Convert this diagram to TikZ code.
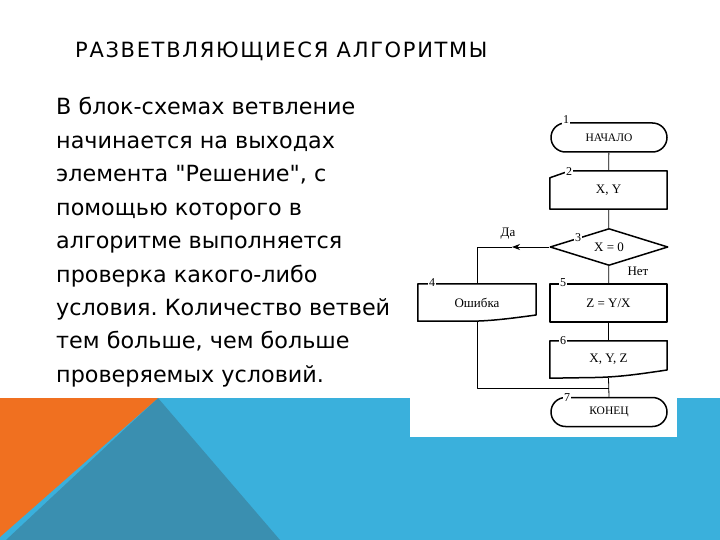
\documentclass[tikz,border=0pt]{standalone}
\usepackage{fontspec}
\setmainfont{DejaVu Sans}
\newfontfamily\schemefont{Liberation Serif}
\usetikzlibrary{shapes.geometric,shapes.misc,arrows.meta,positioning}
\definecolor{slideblue}{HTML}{3AB0DC}
\definecolor{slideteal}{HTML}{3A8FB0}
\definecolor{slideorange}{HTML}{F07020}
\frenchspacing

\begin{document}
\begin{tikzpicture}[x=1pt,y=-1pt,>={Stealth[length=8pt,width=6pt]},line join=round,
  body/.style={font=\fontsize{22.3}{26}\selectfont,inner sep=0pt,anchor=base west},
  blk/.style={font=\schemefont\fontsize{13}{15}\selectfont,inner sep=0pt},
  term/.style={blk,rounded rectangle,draw,line width=1.5pt,minimum width=116pt,minimum height=29pt,
    font=\schemefont\fontsize{11.5}{13}\selectfont},
  cond/.style={blk,diamond,aspect=3,draw,line width=1.5pt,minimum width=118pt,minimum height=37pt},
  outl/.style={line width=1.5pt},
  num/.style={font=\schemefont\fontsize{12}{13}\selectfont,fill=white,inner sep=0.6pt},
  link/.style={line width=0.8pt}]
\useasboundingbox (0,0) rectangle (720,540);
\fill[white] (0,0) rectangle (720,540);
\fill[slideblue] (0,398) rectangle (720,540);
\fill[slideteal] (158,398) -- (280,540) -- (6,540) -- cycle;
\fill[slideorange] (0,398) -- (158,398) -- (0,537) -- cycle;
\fill[white] (410,100) rectangle (677,437);

% slide text
\node[font=\fontsize{21}{24}\selectfont\addfontfeatures{LetterSpace=8},inner sep=0pt,anchor=base west] (title) at (75,58) {РАЗВЕТВЛЯЮЩИЕСЯ АЛГОРИТМЫ};
\foreach \txt [count=\i] in {В блок-схемах ветвление,начинается на выходах,{элемента \textquotedbl Решение\textquotedbl, с},
  помощью которого в,алгоритме выполняется,проверка какого-либо,условия. Количество ветвей,
  {тем больше, чем больше},проверяемых условий.}
  \node[body] (line\i) at (56,{115+33.4*(\i-1)}) {\txt};

% blocks
\node[term] (start) at (609,137.5) {НАЧАЛО};
\node[blk,minimum width=117pt,minimum height=38pt] (input) at (608.5,190) {X, Y};
\draw[outl] (input.north west) ++(0,7) -- ++(20,-7) -- (input.north east) -- (input.south east) -- (input.south west) -- cycle;
\node[cond] (check) at (609,247) {X = 0};
\node[blk,minimum width=118pt,minimum height=37pt] (error) at (477,302.5) {Ошибка};
\draw[outl] (error.north west) -- (error.north east) -- (536,315) .. controls (500,320) and (480,322) .. (455,321) -- (error.south west) -- cycle;
\node[blk,draw,outl,minimum width=117pt,minimum height=38pt] (divide) at (608.5,303) {Z = Y/X};
\node[blk,minimum width=117pt,minimum height=37pt] (output) at (608.5,359.5) {X, Y, Z};
\draw[outl] (output.north west) -- (output.north east) -- (667,370) .. controls (640,374) and (620,377) .. (595,377.5) -- (output.south west) -- cycle;
\node[term] (finish) at (609,412) {КОНЕЦ};

% numbers
\node[num] (n1) at (566,120) {1};
\node[num] (n2) at (569,172) {2};
\node[num] (n3) at (578,238) {3};
\node[num] (n4) at (432,283) {4};
\node[num] (n5) at (563,283) {5};
\node[num] (n6) at (563,341) {6};
\node[num] (n7) at (567,398) {7};

% connectors
\node[blk] (yes) at (508,234) {Да};
\node[blk] (no) at (638,271) {Нет};
\coordinate (yestip) at (512,247);
\coordinate (merge) at (609,388);
\draw[link] (start) -- (input);
\draw[link] (input) -- (check);
\draw[link] (check) -- (divide);
\draw[link] (divide) -- (output);
\draw[link] (output.south) -- (finish.north);
\draw[link,->] (check.west) -- (yestip);
\draw[link] (yestip) -| (error.north);
\draw[link] (error.south) |- (merge);
\end{tikzpicture}
\end{document}
